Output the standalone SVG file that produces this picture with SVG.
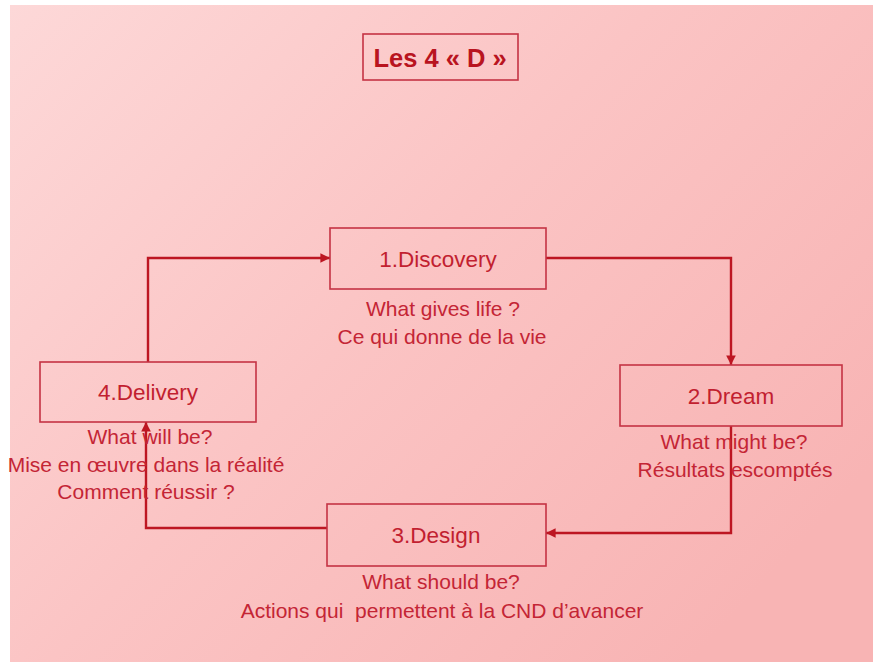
<svg xmlns="http://www.w3.org/2000/svg" width="873" height="662" viewBox="0 0 873 662">
<defs>
<linearGradient id="bg" x1="0" y1="0" x2="1" y2="0.7">
<stop offset="0" stop-color="#fdd8d8"/>
<stop offset="0.5" stop-color="#fbc4c4"/>
<stop offset="1" stop-color="#f8b4b4"/>
</linearGradient>
<marker id="arr" viewBox="0 0 10 10" refX="10" refY="5" markerWidth="4" markerHeight="4" orient="auto" markerUnits="strokeWidth">
<path d="M0,0 L10,5 L0,10 z" fill="#bd1622"/>
</marker>
<style>
.box{fill:none;stroke:#c53344;stroke-width:1.6}
.lbl{font-family:"Liberation Sans",Arial,sans-serif;font-size:22.5px;fill:#c21f30;text-anchor:middle}
.sub{font-family:"Liberation Sans",Arial,sans-serif;font-size:21px;fill:#c42535;text-anchor:middle}
.conn{fill:none;stroke:#bd1622;stroke-width:2.4;marker-end:url(#arr)}
</style>
</defs>
<rect x="0" y="0" width="873" height="662" fill="#ffffff"/>
<rect x="10" y="5" width="863" height="657" fill="url(#bg)"/>

<g id="title">
<rect class="box" x="363" y="34" width="155" height="46"/>
<text x="440" y="67" font-family="'Liberation Sans',Arial,sans-serif" font-size="25.5" font-weight="bold" fill="#b9141f" text-anchor="middle">Les 4 « D »</text>
</g>

<g id="connectors">
<path class="conn" d="M546,258 H731 V365"/>
<path class="conn" d="M731,426 V533 H546"/>
<path class="conn" d="M327,528 H146 V422"/>
<path class="conn" d="M148,362 V258 H330"/>
</g>

<g id="discovery">
<rect class="box" x="330" y="228" width="216" height="61"/>
<text class="lbl" x="438" y="267">1.Discovery</text>
<text class="sub" x="443" y="316">What gives life ?</text>
<text class="sub" x="442" y="344">Ce qui donne de la vie</text>
</g>

<g id="dream">
<rect class="box" x="620" y="365" width="222" height="61"/>
<text class="lbl" x="731" y="404">2.Dream</text>
<text class="sub" x="734" y="449">What might be?</text>
<text class="sub" x="735" y="477">Résultats escomptés</text>
</g>

<g id="design">
<rect class="box" x="327" y="504" width="219" height="62"/>
<text class="lbl" x="436" y="543">3.Design</text>
<text class="sub" x="441" y="589">What should be?</text>
<text class="sub" x="442" y="618" xml:space="preserve">Actions qui  permettent à la CND d’avancer</text>
</g>

<g id="delivery">
<rect class="box" x="40" y="362" width="216" height="60"/>
<text class="lbl" x="148" y="400">4.Delivery</text>
<text class="sub" x="150" y="444">What will be?</text>
<text class="sub" x="146" y="472">Mise en œuvre dans la réalité</text>
<text class="sub" x="146" y="499">Comment réussir ?</text>
</g>
</svg>
